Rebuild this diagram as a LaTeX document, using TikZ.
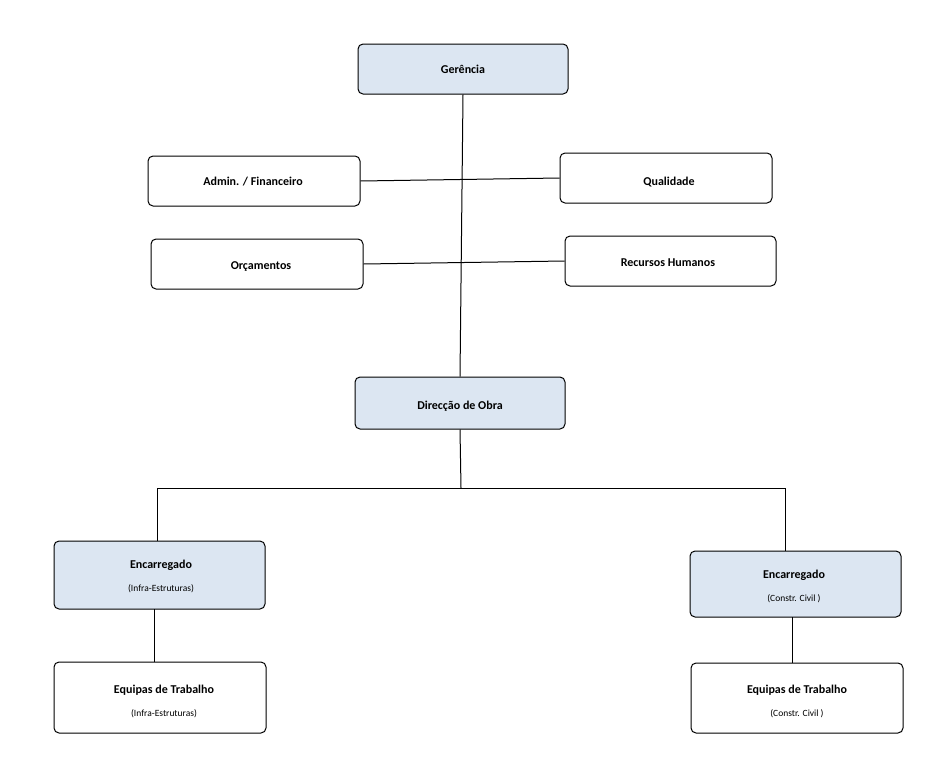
\documentclass[tikz,border=0pt]{standalone}
\usepackage{fontspec}
\setmainfont{Carlito}
\begin{document}
\begin{tikzpicture}[x=1pt,y=-1pt,
 box/.style={draw,line width=1pt,rounded corners=5pt,fill=white,align=center,inner sep=0pt},
 blue/.style={fill={rgb,255:red,220;green,230;blue,242}},
 t/.style={font=\fontsize{12}{14}\selectfont\bfseries},
 s/.style={font=\fontsize{9.5}{12}\selectfont}]
\useasboundingbox (0,0) rectangle (945,763);
\newcommand{\bx}[6]{\node[box,#6,minimum width=#3-#1,minimum height=#4-#2] (#5) at ({(#1+#3)/2},{(#2+#4)/2}) {};}
\bx{358}{44}{568}{94}{ger}{blue}
\bx{148}{156}{360}{206}{adm}{}
\bx{560}{153}{772}{203}{qua}{}
\bx{151}{239}{363}{289}{orc}{}
\bx{565}{236}{776}{286}{rh}{}
\bx{355}{377}{565}{429}{dir}{blue}
\bx{54}{541}{265}{609}{encl}{blue}
\bx{690}{551}{901}{617}{encr}{blue}
\bx{54}{662}{266}{733}{eql}{}
\bx{691}{663}{903}{733}{eqr}{}
\coordinate (j) at (461,488);
\begin{scope}[line width=1pt]
\draw (ger.south) -- (dir.north);
\draw (adm.east) -- (qua.west);
\draw (orc.east) -- (rh.west);
\draw (dir.south) -- (j);
\draw (157,488) -- (785,488);
\draw (157,488) -- (157,541);
\draw (785,488) -- (785,551);
\draw (154,609) -- (154,662);
\draw (792,617) -- (792,663);
\end{scope}
\node[t] at (ger) {Gerência};
\node[t] at (253,182) {Admin. / Financeiro};
\node[t] at (669,182) {Qualidade};
\node[t] at (261,267) {Orçamentos};
\node[t] at (668,263) {Recursos Humanos};
\node[t] at (460,406) {Direcção de Obra};
\node[t] at (161,565) {Encarregado};
\node[s] at (161,589) {(Infra-Estruturas)};
\node[t] at (794,575) {Encarregado};
\node[s] at (794,599) {(Constr. Civil )};
\node[t] at (164,690) {Equipas de Trabalho};
\node[s] at (164,714) {(Infra-Estruturas)};
\node[t] at (797,690) {Equipas de Trabalho};
\node[s] at (797,714) {(Constr. Civil )};
\end{tikzpicture}
\end{document}
